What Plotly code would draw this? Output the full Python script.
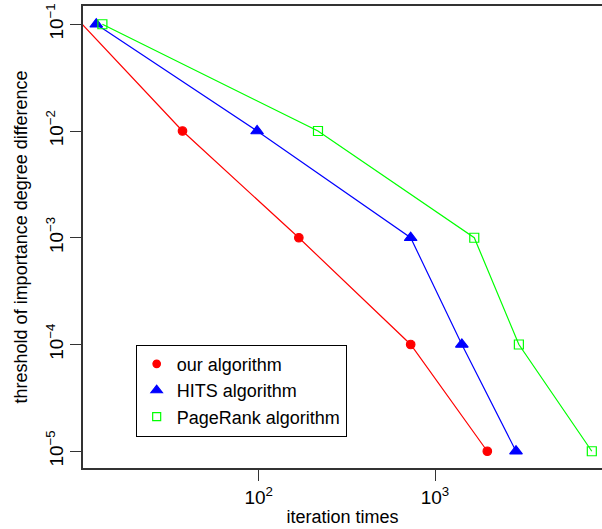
import plotly.graph_objects as go

thresholds = [1e-1, 1e-2, 1e-3, 1e-4, 1e-5]
our_iter = [10, 37, 169, 728, 1980]
hits_iter = [12, 98, 728, 1420, 2880]
pagerank_iter = [13, 217, 1670, 2990, 7750]

series = [
    ("our algorithm", our_iter, "#FF0000", "circle", 8.5),
    ("HITS algorithm", hits_iter, "#0000FF", "triangle-up", 11),
    ("PageRank algorithm", pagerank_iter, "#00FF00", "square-open", 9),
]

fig = go.Figure()
for name, xs, col, sym, sz in series:
    fig.add_trace(go.Scatter(
        x=xs, y=thresholds, mode="lines+markers", showlegend=False,
        line=dict(color=col, width=1.2),
        marker=dict(color=col, symbol=sym, size=sz, line=dict(color=col, width=1.2)),
        cliponaxis=False,
    ))
for name, xs, col, sym, sz in series:
    fig.add_trace(go.Scatter(
        x=[None], y=[None], mode="markers", name=name,
        marker=dict(color=col, symbol=sym, size=sz - 1, line=dict(color=col, width=1.2)),
    ))

font = "Liberation Sans, Arial, Helvetica, sans-serif"
fig.update_layout(
    width=602, height=529,
    margin=dict(l=83, r=0, t=6, b=61),
    paper_bgcolor="white", plot_bgcolor="white",
    font=dict(family=font, size=18, color="black"),
    xaxis=dict(
        type="log", range=[1.004, 3.947], automargin=False,
        tickvals=[100, 1000],
        ticktext=["10<sup>2</sup>", "10<sup>3</sup>"],
        ticks="outside", ticklen=11, tickwidth=1.2, tickcolor="#333",
        showline=True, linecolor="#333", linewidth=1.5, mirror=True,
        showgrid=False, zeroline=False,
        title=dict(text="iteration times", standoff=4, font=dict(size=18)),
        tickfont=dict(size=19),
    ),
    yaxis=dict(
        type="log", range=[-5.157, -0.829], automargin=False,
        tickvals=[1e-5, 1e-4, 1e-3, 1e-2, 1e-1],
        ticktext=["10<sup>−5</sup>", "10<sup>−4</sup>", "10<sup>−3</sup>", "10<sup>−2</sup>", "10<sup>−1</sup>"],
        tickangle=-90,
        ticks="outside", ticklen=11, tickwidth=1.2, tickcolor="#333",
        showline=True, linecolor="#333", linewidth=1.5, mirror=False,
        showgrid=False, zeroline=False,
        title=dict(text="threshold of importance degree difference", standoff=10, font=dict(size=18)),
        tickfont=dict(size=19),
    ),
    legend=dict(
        x=0.1015, y=0.267, xanchor="left", yanchor="top",
        bordercolor="black", borderwidth=1, bgcolor="white",
        font=dict(size=18), tracegroupgap=0, itemwidth=30,
    ),
)

fig.write_html(
    "out.html",
    config={"displayModeBar": False},
    post_script="document.body.style.margin='0';document.body.style.overflow='hidden';",
)
